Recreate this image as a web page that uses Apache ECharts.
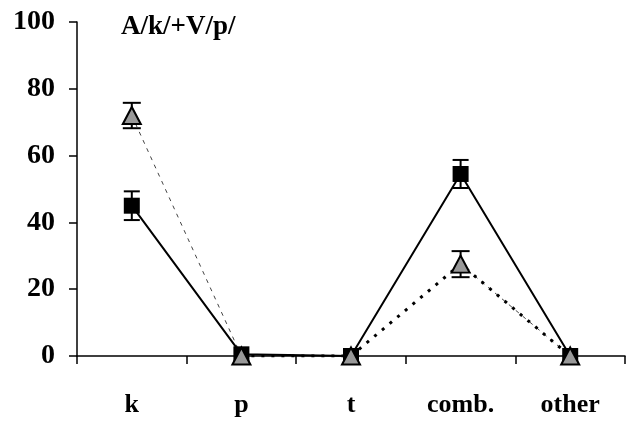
<!DOCTYPE html>
<html><head><meta charset="utf-8">
<script src="https://cdn.jsdelivr.net/npm/echarts@6/dist/echarts.min.js"></script>
<style>html,body{margin:0;padding:0;background:#fff}#c{width:635px;height:421px}</style>
</head><body><div id="c"></div>
<script>
const categories = ['k', 'p', 't', 'comb.', 'other'];
const yTicks = [0, 20, 40, 60, 80, 100];
const squareValues = [45, 0.5, 0, 54.5, 0];
const squareErrors = [4.3, 0, 0, 4.2, 0];
const triangleValues = [72, 0, 0, 27.5, 0];
const triangleErrors = [3.8, 0, 0, 3.9, 0];
const titleText = 'A/k/+V/p/';

const FONT = 'Liberation Serif';
const chart = echarts.init(document.getElementById('c'));

function errData(vals, errs) {
  return vals.map((v, i) => [i, v - errs[i], v + errs[i]]).filter((d, i) => errs[i] > 0);
}
function errSeries(vals, errs, capW) {
  return {
    type: 'custom', z: 1,
    data: errData(vals, errs),
    renderItem: function (params, api) {
      const lo = api.coord([api.value(0), api.value(1)]);
      const hi = api.coord([api.value(0), api.value(2)]);
      const st = { stroke: '#000', lineWidth: 2 };
      return { type: 'group', children: [
        { type: 'line', shape: { x1: lo[0], y1: lo[1], x2: hi[0], y2: hi[1] }, style: st },
        { type: 'line', shape: { x1: lo[0] - capW / 2, y1: lo[1], x2: lo[0] + capW / 2, y2: lo[1] }, style: st },
        { type: 'line', shape: { x1: hi[0] - capW / 2, y1: hi[1], x2: hi[0] + capW / 2, y2: hi[1] }, style: st }
      ]};
    }
  };
}

// segment splits of the triangle series (line styles differ per segment)
const triDashed = triangleValues.map((v, i) => (i === 2 ? null : v));
const triDotted = triangleValues.map((v, i) => (i === 0 ? null : v));

chart.setOption({
  animation: false,
  backgroundColor: '#fff',
  title: { text: titleText, left: 116, top: 9,
    textStyle: { fontFamily: FONT, fontSize: 27, fontWeight: 'bold', color: '#000' } },
  grid: { left: 77, right: 10, top: 22, bottom: 65 },
  xAxis: {
    type: 'category', data: categories, boundaryGap: true,
    axisLine: { lineStyle: { color: '#000', width: 1.5 } },
    axisTick: { show: true, length: 8, lineStyle: { color: '#000', width: 1.5 } },
    axisLabel: { margin: 36, fontFamily: FONT, fontSize: 26, fontWeight: 'bold', color: '#000' },
    splitLine: { show: false }
  },
  yAxis: {
    type: 'value', min: 0, max: 100, interval: 20,
    axisLine: { show: true, lineStyle: { color: '#000', width: 1.5 } },
    axisTick: { show: true, length: 8, lineStyle: { color: '#000', width: 1.5 } },
    axisLabel: { margin: 22, fontFamily: FONT, fontSize: 28, fontWeight: 'bold', color: '#000',
      formatter: v => (yTicks.indexOf(v) >= 0 ? String(v) : '') },
    splitLine: { show: false }
  },
  series: [
    errSeries(squareValues, squareErrors, 16),
    errSeries(triangleValues, triangleErrors, 18),
    { type: 'line', data: triDashed, symbol: 'none', z: 2, connectNulls: false,
      lineStyle: { color: '#444', width: 1, type: [4, 5] } },
    { type: 'line', data: triDotted, symbol: 'none', z: 2, connectNulls: false,
      lineStyle: { color: '#000', width: 3, type: [3, 7] } },
    { type: 'line', data: squareValues, symbol: 'rect', symbolSize: 16, z: 3,
      itemStyle: { color: '#000' }, lineStyle: { color: '#000', width: 2 } },
    { type: 'line', data: triangleValues, symbol: 'triangle', symbolSize: [18, 17], z: 4,
      itemStyle: { color: '#999', borderColor: '#000', borderWidth: 2 },
      lineStyle: { width: 0, opacity: 0 } }
  ]
});
</script></body></html>
